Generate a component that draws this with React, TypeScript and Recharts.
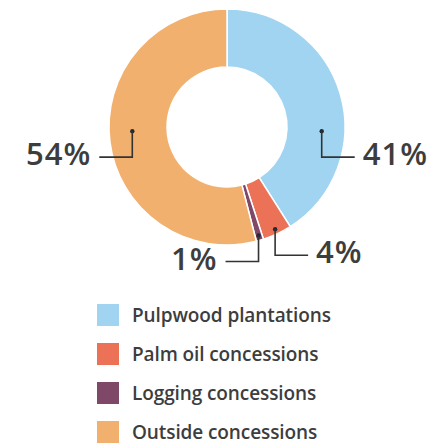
import { PieChart, Pie, Cell, Legend } from 'recharts'

const CATEGORIES = ['Pulpwood plantations', 'Palm oil concessions', 'Logging concessions', 'Outside concessions']
const SHARES = [41, 4, 1, 54]
const COLORS = ['#a0d4f1', '#ec7257', '#7f4868', '#f2b06e']

const data = CATEGORIES.map((name, i) => ({ name, value: SHARES[i], fill: COLORS[i] }))

const RAD = Math.PI / 180
const TEXT = '#3d3d3d'

// leader: dot in the slice, drop down, then run sideways to the number
const renderLabel = (props: any) => {
    const { cx, cy, innerRadius, outerRadius, startAngle, endAngle, midAngle, value, index } = props
    const lo = Math.min(startAngle, endAngle)
    const hi = Math.max(startAngle, endAngle)
    let angle = midAngle
    let r = outerRadius - 5
    const horiz = [0, 180, -180].find(a => a >= lo && a <= hi)
    if (horiz !== undefined) {
        angle = horiz === 0 ? -2.5 : horiz + 2.5
        r = innerRadius + (outerRadius - innerRadius) * 0.6
    }
    const x = cx + r * Math.cos(-angle * RAD)
    const y = cy + r * Math.sin(-angle * RAD)
    // clockwise from 12 o'clock
    const clock = ((90 - midAngle) % 360 + 360) % 360
    const dir = clock < 160 ? 1 : -1
    const y2 = y + 26
    const x2 = x + dir * 33
    return (
        <g key={`lbl-${index}`}>
            <circle cx={x} cy={y} r={2.2} fill="#1f2a33" />
            <polyline points={`${x},${y} ${x},${y2} ${x2},${y2}`} fill="none" stroke="#333" strokeWidth={1.6} />
            <text
                x={x2 + dir * 8}
                y={y2 - 3}
                dy="0.36em"
                textAnchor={dir > 0 ? 'start' : 'end'}
                fill={TEXT}
                fontSize={31}
                fontWeight={600}
                fontFamily="'Open Sans', sans-serif"
                letterSpacing={1}
            >
                {value}%
            </text>
        </g>
    )
}

const LegendBox = () => (
    <div style={{ fontFamily: "'Open Sans', sans-serif" }}>
        {data.map(d => (
            <div key={d.name} style={{ display: 'flex', alignItems: 'center', height: 39 }}>
                <span style={{ width: 22, height: 22, background: d.fill, display: 'inline-block', marginRight: 13 }} />
                <span style={{ fontSize: 19, fontWeight: 600, color: TEXT, letterSpacing: -0.1 }}>{d.name}</span>
            </div>
        ))}
    </div>
)

export default function App() {
    return (
        <div style={{ position: 'absolute', left: 0, top: 0, width: 431, height: 443, background: '#fff', overflow: 'hidden' }}>
            <PieChart width={431} height={443} margin={{ top: 0, right: 0, bottom: 0, left: 0 }}>
                <Pie
                    data={data}
                    dataKey="value"
                    nameKey="name"
                    cx={227}
                    cy={127}
                    innerRadius={60}
                    outerRadius={118}
                    startAngle={90}
                    endAngle={-270}
                    stroke="#fff"
                    strokeWidth={1.5}
                    label={renderLabel}
                    labelLine={false}
                    isAnimationActive={false}
                >
                    {data.map((d, i) => (
                        <Cell key={`cell-${i}`} fill={d.fill} />
                    ))}
                </Pie>
                <Legend
                    content={<LegendBox />}
                    wrapperStyle={{ position: 'absolute', left: 97, top: 295, width: 330 }}
                />
            </PieChart>
        </div>
    )
}
